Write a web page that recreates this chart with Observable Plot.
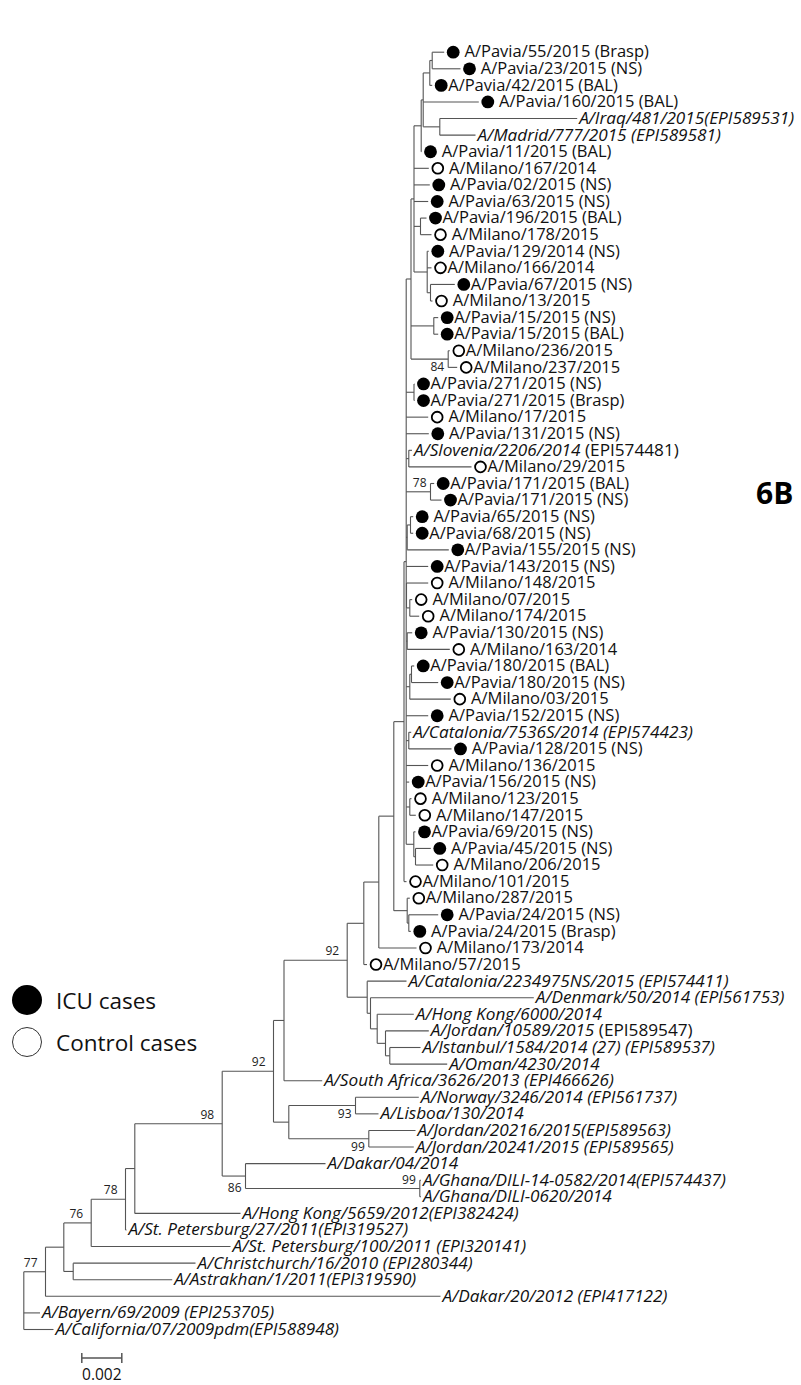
<!DOCTYPE html>
<html><head><meta charset="utf-8">
<script src="https://cdn.jsdelivr.net/npm/d3@7"></script>
<script src="https://cdn.jsdelivr.net/npm/@observablehq/plot@0.6"></script>
<style>
body{margin:0;background:#fff;}
#wrap{position:relative;width:801px;height:1385px;font-family:"Open Sans", Lato, sans-serif;overflow:hidden;}
#wrap svg{position:absolute;left:0;top:0;}
.legend{position:absolute;left:12px;top:979px;font-size:22.5px;color:#111;}
.legend .item{display:flex;align-items:center;height:42px;}
.legend .sw{width:30px;height:30px;border-radius:50%;margin-right:14px;box-sizing:border-box;}
.panel{position:absolute;left:756px;top:472px;font-size:30px;font-weight:bold;color:#000;}
</style></head><body><div id="wrap"></div>
<script>
// internal nodes: [id, parent, distance from root (subst./site)]
const nodes = [
  ["root", null, 0],
  ["JJ", "root", 0.001085], ["II", "JJ", 0.002], ["GG", "II", 0.00337], ["HH", "II", 0.00247],
  ["FF", "GG", 0.005085], ["EE", "FF", 0.00555], ["BB", "EE", 0.00992],
  ["Z", "BB", 0.012485], ["DD", "BB", 0.011085], ["GH", "DD", 0.0198],
  ["Y", "Z", 0.01301], ["AA", "Z", 0.01325], ["NL", "AA", 0.016585], ["CC", "AA", 0.01725],
  ["S", "Y", 0.01617], ["T", "S", 0.01717], ["U", "T", 0.017335], ["V", "U", 0.01767],
  ["W", "V", 0.018085], ["X", "W", 0.0183],
  ["R", "S", 0.017], ["Q", "R", 0.01775], ["P", "Q", 0.0185],
  ["Pb", "P", 0.01917], ["P24", "Pb", 0.01925],
  ["Mlow", "P", 0.01901], ["UP3", "Mlow", 0.01912], ["UP2", "UP3", 0.01936], ["UP1", "UP2", 0.01951],
  ["Ne", "UP1", 0.01987], ["Nd", "Ne", 0.01997], ["Nb", "Nd", 0.0203], ["Na", "Nb", 0.02042], ["Nc", "Nd", 0.0208],
  ["N196", "UP1", 0.019835], ["Nf", "UP1", 0.02017], ["Ng", "Nf", 0.020335],
  ["N15", "UP2", 0.0205], ["N236", "UP2", 0.02122],
  ["N271", "UP3", 0.01951], ["Nslo", "UP3", 0.01925], ["N171", "UP3", 0.020335],
  ["N155", "UP3", 0.01917], ["N65", "N155", 0.019335],
  ["N148", "UP3", 0.019135], ["N07", "N148", 0.0193], ["N130", "UP3", 0.01917],
  ["N180", "UP3", 0.0193], ["N180a", "N180", 0.019385], ["Ncat", "UP3", 0.01925],
  ["N123", "UP3", 0.0193], ["N69", "UP3", 0.0195], ["N45", "N69", 0.019585]
];
const NB = "\u00a0";
// leaves, top to bottom: [label, parent, tip distance, kind]
const leaves = [
  [NB+"A/Pavia/55/2015 (Brasp)", "Na", 0.02102, "icu"],
  [NB+"A/Pavia/23/2015 (NS)", "Na", 0.021835, "icu"],
  ["A/Pavia/42/2015 (BAL)", "Nb", 0.02042, "icu"],
  [NB+"A/Pavia/160/2015 (BAL)", "Nd", 0.02275, "icu"],
  ["A/Iraq/481/2015(EPI589531)", "Nc", 0.02767, "ref"],
  ["A/Madrid/777/2015 (EPI589581)", "Nc", 0.022585, "ref"],
  [NB+"A/Pavia/11/2015 (BAL)", "Ne", 0.019885, "icu"],
  [NB+"A/Milano/167/2014", "UP1", 0.02025, "ctrl"],
  [NB+"A/Pavia/02/2015 (NS)", "UP1", 0.0203, "icu"],
  [NB+"A/Pavia/63/2015 (NS)", "UP1", 0.02022, "icu"],
  ["A/Pavia/196/2015 (BAL)", "N196", 0.020135, "icu"],
  [NB+"A/Milano/178/2015", "N196", 0.020385, "ctrl"],
  [NB+"A/Pavia/129/2014 (NS)", "Nf", 0.02025, "icu"],
  ["A/Milano/166/2014", "Nf", 0.020385, "ctrl"],
  ["A/Pavia/67/2015 (NS)", "Ng", 0.02155, "icu"],
  [NB+"A/Milano/13/2015", "Ng", 0.020435, "ctrl"],
  ["A/Pavia/15/2015 (NS)", "N15", 0.02072, "icu"],
  ["A/Pavia/15/2015 (BAL)", "N15", 0.02072, "icu"],
  ["A/Milano/236/2015", "N236", 0.0213, "ctrl"],
  ["A/Milano/237/2015", "N236", 0.02167, "ctrl"],
  ["A/Pavia/271/2015 (NS)", "N271", 0.019535, "icu"],
  ["A/Pavia/271/2015 (Brasp)", "N271", 0.019535, "icu"],
  [NB+"A/Milano/17/2015", "UP3", 0.02022, "ctrl"],
  [NB+"A/Pavia/131/2015 (NS)", "UP3", 0.02025, "icu"],
  ["A/Slovenia/2206/2014 (EPI574481)", "Nslo", 0.01941, "ref"],
  ["A/Milano/29/2015", "Nslo", 0.022385, "ctrl"],
  ["A/Pavia/171/2015 (BAL)", "N171", 0.02052, "icu"],
  ["A/Pavia/171/2015 (NS)", "N171", 0.020885, "icu"],
  [NB+"A/Pavia/65/2015 (NS)", "N65", 0.01947, "icu"],
  ["A/Pavia/68/2015 (NS)", "N65", 0.01947, "icu"],
  ["A/Pavia/155/2015 (NS)", "N155", 0.02125, "icu"],
  ["A/Pavia/143/2015 (NS)", "UP3", 0.02022, "icu"],
  [NB+"A/Milano/148/2015", "N148", 0.02022, "ctrl"],
  [NB+"A/Milano/07/2015", "N07", 0.01942, "ctrl"],
  [NB+"A/Milano/174/2015", "N07", 0.01977, "ctrl"],
  [NB+"A/Pavia/130/2015 (NS)", "N130", 0.01942, "icu"],
  [NB+"A/Milano/163/2014", "N130", 0.0213, "ctrl"],
  ["A/Pavia/180/2015 (BAL)", "N180a", 0.01952, "icu"],
  ["A/Pavia/180/2015 (NS)", "N180a", 0.02072, "icu"],
  [NB+"A/Milano/03/2015", "N180", 0.02135, "ctrl"],
  [NB+"A/Pavia/152/2015 (NS)", "UP3", 0.02022, "icu"],
  ["A/Catalonia/7536S/2014 (EPI574423)", "Ncat", 0.01937, "ref"],
  [NB+"A/Pavia/128/2015 (NS)", "Ncat", 0.021385, "icu"],
  [NB+"A/Milano/136/2015", "UP3", 0.02022, "ctrl"],
  ["A/Pavia/156/2015 (NS)", "UP3", 0.01927, "icu"],
  [NB+"A/Milano/123/2015", "N123", 0.019385, "ctrl"],
  [NB+"A/Milano/147/2015", "N123", 0.0196, "ctrl"],
  ["A/Pavia/69/2015 (NS)", "N69", 0.019585, "icu"],
  [NB+"A/Pavia/45/2015 (NS)", "N45", 0.02035, "icu"],
  [NB+"A/Milano/206/2015", "N45", 0.02047, "ctrl"],
  ["A/Milano/101/2015", "Mlow", 0.019135, "ctrl"],
  ["A/Milano/287/2015", "Pb", 0.0193, "ctrl"],
  [NB+"A/Pavia/24/2015 (NS)", "P24", 0.02072, "icu"],
  [NB+"A/Pavia/24/2015 (Brasp)", "P24", 0.01935, "icu"],
  [NB+"A/Milano/173/2014", "Q", 0.019635, "ctrl"],
  ["A/Milano/57/2015", "R", 0.01716, "ctrl"],
  ["A/Catalonia/2234975NS/2015 (EPI574411)", "T", 0.019135, "ref"],
  ["A/Denmark/50/2014 (EPI561753)", "U", 0.0255, "ref"],
  ["A/Hong Kong/6000/2014", "V", 0.0195, "ref"],
  ["A/Jordan/10589/2015 (EPI589547)", "W", 0.02025, "ref"],
  ["A/Istanbul/1584/2014 (27) (EPI589537)", "X", 0.019835, "ref"],
  ["A/Oman/4230/2014", "X", 0.02117, "ref"],
  ["A/South Africa/3626/2013 (EPI466626)", "Y", 0.01492, "ref"],
  ["A/Norway/3246/2014 (EPI561737)", "NL", 0.01975, "ref"],
  ["A/Lisboa/130/2014", "NL", 0.017735, "ref"],
  ["A/Jordan/20216/2015(EPI589563)", "CC", 0.019585, "ref"],
  ["A/Jordan/20241/2015 (EPI589565)", "CC", 0.0195, "ref"],
  ["A/Dakar/04/2014", "DD", 0.015085, "ref"],
  ["A/Ghana/DILI-14-0582/2014(EPI574437)", "GH", 0.01986, "ref"],
  ["A/Ghana/DILI-0620/2014", "GH", 0.01986, "ref"],
  ["A/Hong Kong/5659/2012(EPI382424)", "EE", 0.010835, "ref"],
  ["A/St. Petersburg/27/2011(EPI319527)", "FF", 0.005135, "ref"],
  ["A/St. Petersburg/100/2011 (EPI320141)", "GG", 0.010335, "ref"],
  ["A/Christchurch/16/2010 (EPI280344)", "HH", 0.008585, "ref"],
  ["A/Astrakhan/1/2011(EPI319590)", "HH", 0.00742, "ref"],
  ["A/Dakar/20/2012 (EPI417122)", "JJ", 0.020835, "ref"],
  ["A/Bayern/69/2009 (EPI253705)", "root", 0.00081, "ref"],
  ["A/California/07/2009pdm(EPI588948)", "root", 0.001485, "ref"]
];
// parts of reference labels printed upright
const uprightParts = ["(EPI574481)", "(EPI589547)"];
// bootstrap values: [node, value, placement]
const bootstraps = [
  ["N236", "84", "last"], ["N171", "78", "first"], ["S", "92", "mid"], ["Z", "92", "mid"],
  ["BB", "98", "mid"], ["NL", "93", "last"], ["CC", "99", "last"], ["GH", "99", "first"],
  ["DD", "86", "last"], ["FF", "78", "mid"], ["GG", "76", "mid"], ["JJ", "77", "mid"]
];
const scaleBar = [{from: 0.0029, len: 0.002, row: 78.72, label: "0.002"}];
const legendItems = [{label: "ICU cases", kind: "icu"}, {label: "Control cases", kind: "ctrl"}];
const panelLabel = "6B";

// ---- build tree
const map = new Map();
for (const [id, parent, dist] of nodes) map.set(id, {id, parent, dist, children: [], leaf: false});
leaves.forEach(([label, parent, dist, kind], i) => map.set("L" + i, {id: "L" + i, label, parent, dist, kind, y: i, children: [], leaf: true}));
for (const n of map.values()) if (n.parent) map.get(n.parent).children.push(n);
function setY(n) {
  if (n.leaf) return n.y;
  const ys = n.children.map(setY);
  n.y0 = d3.min(ys); n.y1 = d3.max(ys); n.y = (n.y0 + n.y1) / 2;
  return n.y;
}
setY(map.get("root"));
const segs = [];
for (const n of map.values()) {
  if (n.parent) { const p = map.get(n.parent); segs.push({x1: p.dist, x2: n.dist, y1: n.y, y2: n.y}); }
  if (!n.leaf) segs.push({x1: n.dist, x2: n.dist, y1: n.y0, y2: n.y1});
}
const leafRows = [...map.values()].filter(d => d.leaf);
const bootMid = bootstraps.filter(b => b[2] === "mid").map(([id, v]) => ({x: map.get(id).dist, y: map.get(id).y, v}));
const bootEdge = bootstraps.filter(b => b[2] !== "mid").map(([id, v, a]) => { const n = map.get(id); return {x: n.dist, y: a === "first" ? n.y0 : n.y1, v}; });
const sb = scaleBar.map(s => ({...s, to: s.from + s.len, mid: s.from + s.len / 2}));

const lineColor = "#555";
const plot = Plot.plot({
  width: 801, height: 1385, margin: 0,
  style: {fontFamily: "'Open Sans', Lato, sans-serif", background: "transparent", overflow: "visible"},
  x: {domain: [0, 0.03], range: [23.3, 623.3], axis: null},
  y: {domain: [0, 77], range: [51.7, 1329], axis: null},
  marks: [
    Plot.link(segs, {x1: "x1", x2: "x2", y1: "y1", y2: "y2", stroke: lineColor, strokeWidth: 1.1}),
    Plot.dot(leafRows.filter(d => d.kind === "icu"), {x: "dist", y: "y", dx: 9, r: 6.4, fill: "#000", stroke: "none"}),
    Plot.dot(leafRows.filter(d => d.kind === "ctrl"), {x: "dist", y: "y", dx: 9, r: 5.4, fill: "#fff", stroke: "#000", strokeWidth: 1.8}),
    Plot.text(leafRows.filter(d => d.kind !== "ref"), {x: "dist", y: "y", text: "label", dx: 16, textAnchor: "start", fontSize: 16.5, fill: "#111"}),
    Plot.text(leafRows.filter(d => d.kind === "ref"), {x: "dist", y: "y", text: "label", dx: 2, textAnchor: "start", fontSize: 17.2, fill: "#111", fontStyle: "italic"}),
    Plot.text(bootMid, {x: "x", y: "y", text: "v", dx: -8, dy: -9, textAnchor: "end", fontSize: 12, fill: "#222"}),
    Plot.text(bootEdge, {x: "x", y: "y", text: "v", dx: -4, textAnchor: "end", fontSize: 12, fill: "#222"}),
    Plot.link(sb, {x1: "from", x2: "to", y1: "row", y2: "row", stroke: lineColor, strokeWidth: 1.5}),
    Plot.link(sb, {x1: "from", x2: "from", y1: d => d.row - 0.3, y2: d => d.row + 0.3, stroke: lineColor, strokeWidth: 1.5}),
    Plot.link(sb, {x1: "to", x2: "to", y1: d => d.row - 0.3, y2: d => d.row + 0.3, stroke: lineColor, strokeWidth: 1.5}),
    Plot.text(sb, {x: "mid", y: d => d.row + 1.0, text: "label", fontSize: 15.5, fill: "#111"})
  ]
});
// mixed italic / upright reference labels
plot.querySelectorAll("text").forEach(t => {
  const s = t.textContent;
  for (const u of uprightParts) {
    if (s.endsWith(u) && s !== u) {
      const head = s.slice(0, s.length - u.length);
      t.textContent = "";
      const a = document.createElementNS("http://www.w3.org/2000/svg", "tspan");
      a.textContent = head; a.setAttribute("font-style", "italic");
      const b = document.createElementNS("http://www.w3.org/2000/svg", "tspan");
      b.textContent = u; b.setAttribute("font-style", "normal");
      t.append(a, b);
    }
  }
});
const wrap = document.getElementById("wrap");
wrap.appendChild(plot);
const lg = document.createElement("div"); lg.className = "legend";
for (const it of legendItems) {
  const row = document.createElement("div"); row.className = "item";
  const sw = document.createElement("span"); sw.className = "sw";
  sw.style.background = it.kind === "icu" ? "#000" : "#fff";
  sw.style.border = it.kind === "icu" ? "none" : "1.5px solid #333";
  const tx = document.createElement("span"); tx.textContent = it.label;
  row.append(sw, tx); lg.appendChild(row);
}
wrap.appendChild(lg);
const pl = document.createElement("div"); pl.className = "panel"; pl.textContent = panelLabel;
wrap.appendChild(pl);
</script></body></html>
